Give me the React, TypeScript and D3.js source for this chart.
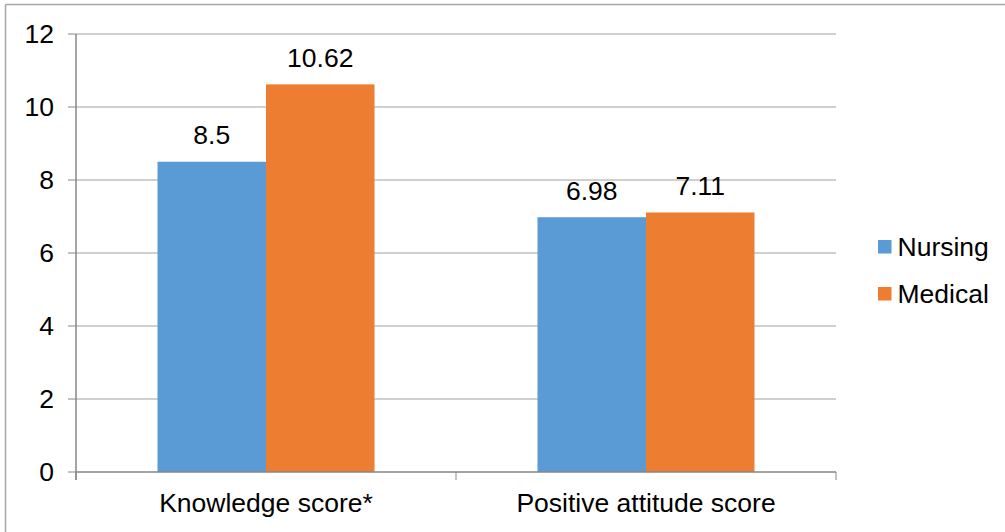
import React from "react";
import * as d3 from "d3";

const categories = ["Knowledge score*", "Positive attitude score"];
const seriesNames = ["Nursing", "Medical"];
const nursing = [8.5, 6.98];
const medical = [10.62, 7.11];
const labels = [["8.5", "6.98"], ["10.62", "7.11"]];
const yTicks = [0, 2, 4, 6, 8, 10, 12];
const colors = ["#5B9BD5", "#ED7D31"];

const W = 1005;
const H = 532;
const M = { left: 76, right: 836, top: 34, bottom: 472 };
const FS = 26.5;

export default function App() {
  const x = d3.scaleBand<string>().domain(categories).range([M.left, M.right]).paddingInner(0).paddingOuter(0);
  const y = d3.scaleLinear().domain([0, 12]).range([M.bottom, M.top]);
  const barW = 108.5;
  const values = [nursing, medical];
  const font = "'Liberation Sans', Arial, sans-serif";
  return (
    <div style={{ position: "absolute", left: 0, top: 0 }}>
      <svg width={W} height={H} style={{ display: "block", background: "#fff" }}>
        <line x1={5.5} y1={4.5} x2={W} y2={4.5} stroke="#a6a6a6" strokeWidth={1.5} />
        <line x1={5.5} y1={4.5} x2={5.5} y2={H} stroke="#a6a6a6" strokeWidth={1.5} />
        {yTicks.map((t) => (
          <g key={t}>
            {t > 0 && (
              <line x1={M.left} x2={M.right} y1={y(t)} y2={y(t)} stroke="#a0a0a0" strokeWidth={1} />
            )}
            <line x1={68} x2={M.left} y1={y(t)} y2={y(t)} stroke="#868686" strokeWidth={1} />
            <text x={54} y={y(t)} dy="0.35em" textAnchor="end" fontFamily={font} fontSize={FS} fill="#000">
              {t}
            </text>
          </g>
        ))}
        {categories.map((c, i) =>
          values.map((vals, s) => {
            const cx = x(c)! + x.bandwidth() / 2;
            const bx = cx - barW + s * barW;
            return (
              <g key={c + s}>
                <rect x={bx} y={y(vals[i])} width={barW} height={y(0) - y(vals[i])} fill={colors[s]} />
                <text x={bx + barW / 2} y={y(vals[i]) - 27} dy="0.35em" textAnchor="middle" fontFamily={font} fontSize={FS} fill="#000">
                  {labels[s][i]}
                </text>
              </g>
            );
          })
        )}
        <line x1={M.left} x2={M.left} y1={M.top} y2={M.bottom + 8} stroke="#868686" strokeWidth={1.5} />
        <line x1={M.left} x2={M.right} y1={M.bottom} y2={M.bottom} stroke="#868686" strokeWidth={1.5} />
        {[M.left, ...categories.map((c) => x(c)! + x.bandwidth())].map((tx, i) => (
          <line key={i} x1={tx} x2={tx} y1={M.bottom} y2={M.bottom + 8} stroke="#868686" strokeWidth={1} />
        ))}
        {categories.map((c) => (
          <text key={c} x={x(c)! + x.bandwidth() / 2} y={503} dy="0.35em" textAnchor="middle" fontFamily={font} fontSize={FS} fill="#000">
            {c}
          </text>
        ))}
        {seriesNames.map((n, i) => (
          <g key={n} transform={`translate(878, ${246.5 + i * 47})`}>
            <rect x={0} y={-6.5} width={13.5} height={13.5} fill={colors[i]} />
            <text x={19.5} y={0} dy="0.35em" fontFamily={font} fontSize={FS} fill="#000">
              {n}
            </text>
          </g>
        ))}
      </svg>
    </div>
  );
}
